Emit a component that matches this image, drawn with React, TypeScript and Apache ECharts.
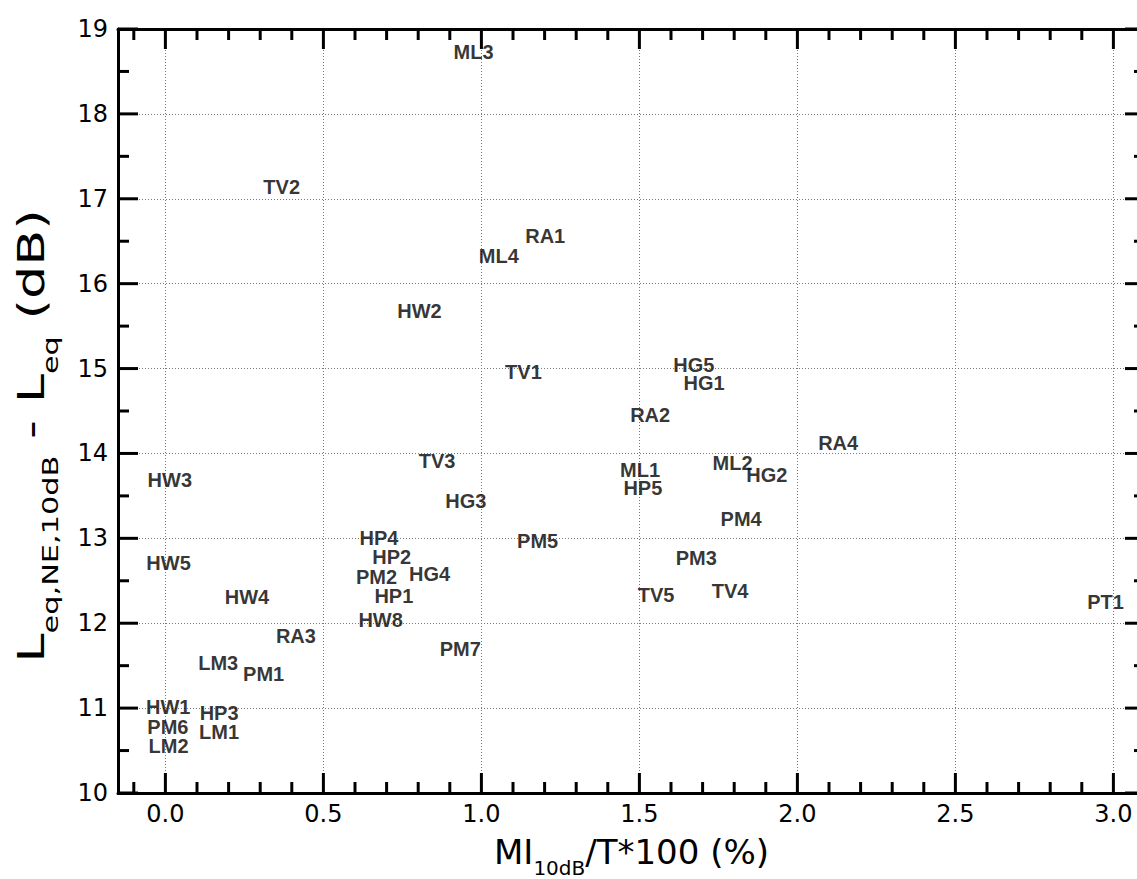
import React, { useEffect, useRef } from 'react';
import * as echarts from 'echarts';

const siteNames = ['ML3','TV2','RA1','ML4','HW2','TV1','HG5','HG1','RA2','RA4','TV3','ML1','ML2','HG2','HW3','HP5','HG3','PM4','HP4','PM5','HW5','HP2','PM3','PM2','HG4','HW4','HP1','TV5','TV4','PT1','HW8','RA3','PM7','LM3','PM1','HW1','HP3','PM6','LM1','LM2'];
const miValues = [0.975,0.368,1.202,1.055,0.804,1.133,1.672,1.705,1.534,2.129,0.860,1.502,1.795,1.903,0.014,1.511,0.951,1.822,0.676,1.178,0.010,0.716,1.680,0.668,0.836,0.258,0.723,1.553,1.787,2.975,0.681,0.413,0.933,0.167,0.311,0.009,0.170,0.008,0.170,0.010];
const diffValues = [18.73,17.14,16.56,16.33,15.68,14.96,15.04,14.83,14.45,14.12,13.91,13.81,13.89,13.75,13.69,13.59,13.44,13.23,13.00,12.97,12.71,12.78,12.77,12.55,12.58,12.31,12.32,12.33,12.38,12.25,12.04,11.85,11.70,11.53,11.40,11.01,10.94,10.78,10.72,10.55];

const xMajorTicks = [0, 0.5, 1.0, 1.5, 2.0, 2.5, 3.0];
const xMinorTicks = [-0.1, 0.1, 0.2, 0.3, 0.4, 0.6, 0.7, 0.8, 0.9, 1.1, 1.2, 1.3, 1.4, 1.6, 1.7, 1.8, 1.9, 2.1, 2.2, 2.3, 2.4, 2.6, 2.7, 2.8, 2.9];
const yMajorTicks = [10, 11, 12, 13, 14, 15, 16, 17, 18, 19];
const yMinorTicks = [10.5, 11.5, 12.5, 13.5, 14.5, 15.5, 16.5, 17.5, 18.5];
const xRange = [-0.15, 3.1];
const yRange = [10, 19];
const yStep = 1;

const xTitle = '{m|MI}{s|10dB}{m|/T*100 (%)}';
const yTitle = '{m|L}{s|eq,NE,10dB}{m| - L}{s|eq}{m| (dB)}';

const FONT = 'DejaVu Sans, Verdana, sans-serif';
const BOLD_FONT = 'Liberation Sans, Arial, Helvetica, sans-serif';

// tick kinds: 0 = x major, 1 = x minor, 2 = y major, 3 = y minor
const tickSpecs = [
  ...xMajorTicks.map((v) => [v, yRange[0], 0]),
  ...xMinorTicks.map((v) => [v, yRange[0], 1]),
  ...yMajorTicks.map((v) => [xRange[0], v, 2]),
  ...yMinorTicks.map((v) => [xRange[0], v, 3]),
];

export default function App() {
  const ref = useRef<HTMLDivElement>(null);
  useEffect(() => {
    if (!ref.current) return;
    const chart = echarts.init(ref.current, undefined, { renderer: 'svg' });
    const lineStyle = { color: '#000', width: 3 };
    const gridLine = { show: true, lineStyle: { type: [1, 2], color: '#777', width: 1 } };
    const option: any = {
      animation: false,
      backgroundColor: '#fff',
      grid: { left: 118, top: 29, right: -8, bottom: 86, containLabel: false, outerBoundsMode: 'none' },
      graphic: [
        {
          type: 'text',
          x: 32,
          y: 436,
          rotation: Math.PI / 2,
          scaleX: 1.38,
          style: {
            text: yTitle,
            align: 'center',
            verticalAlign: 'middle',
            rich: {
              m: { fontSize: 38, fontFamily: FONT, fill: '#000', color: '#000', lineHeight: 40, verticalAlign: 'top' },
              s: { fontSize: 22, fontFamily: FONT, fill: '#000', color: '#000', lineHeight: 40, verticalAlign: 'top', padding: [27, 0, 0, 0] },
            },
          },
        },
      ],
      xAxis: [
        {
          type: 'value', min: xRange[0], max: xRange[1],
          position: 'bottom',
          axisLine: { show: true, onZero: false, lineStyle },
          axisTick: { show: false, customValues: xMajorTicks },
          axisLabel: {
            customValues: xMajorTicks,
            formatter: (v: number) => v.toFixed(1),
            fontSize: 24, color: '#000', fontFamily: FONT, margin: 9,
          },
          splitLine: gridLine,
          name: xTitle,
          nameLocation: 'middle',
          nameGap: 42,
          nameTextStyle: {
            rich: {
              m: { fontSize: 34, fontFamily: FONT, color: '#000', lineHeight: 40, verticalAlign: 'top' },
              s: { fontSize: 20, fontFamily: FONT, color: '#000', lineHeight: 40, verticalAlign: 'top', padding: [23, 0, 0, 0] },
            },
          },
        },
        {
          type: 'value', min: xRange[0], max: xRange[1],
          position: 'top',
          axisLine: { show: true, onZero: false, lineStyle },
          axisTick: { show: false },
          axisLabel: { show: false },
          splitLine: { show: false },
        },
      ],
      yAxis: [
        {
          type: 'value', min: yRange[0], max: yRange[1], interval: yStep,
          position: 'left',
          axisLine: { show: true, onZero: false, lineStyle },
          axisTick: { show: false },
          minorTick: { show: false },
          axisLabel: { fontSize: 24, color: '#000', fontFamily: FONT, margin: 10 },
          splitLine: gridLine,
        },
        {
          type: 'value', min: yRange[0], max: yRange[1], interval: yStep,
          position: 'right',
          axisLine: { show: true, onZero: false, lineStyle },
          axisTick: { show: false },
          axisLabel: { show: false },
          splitLine: { show: false },
        },
      ],
      series: [
        {
          type: 'custom',
          name: 'ticks',
          coordinateSystem: 'cartesian2d',
          xAxisIndex: 0,
          yAxisIndex: 0,
          silent: true,
          clip: false,
          z: 5,
          encode: { x: 0, y: 1 },
          data: tickSpecs,
          renderItem: (params: any, api: any) => {
            const cs = params.coordSys;
            const kind = api.value(2);
            const pt = api.coord([api.value(0), api.value(1)]);
            const len = kind % 2 === 0 ? 20 : 11;
            const style = { stroke: '#000', lineWidth: 3 };
            if (kind < 2) {
              const x = pt[0];
              const b = cs.y + cs.height;
              const t = cs.y;
              return {
                type: 'group',
                children: [
                  { type: 'line', shape: { x1: x, y1: b, x2: x, y2: b - len }, style },
                  { type: 'line', shape: { x1: x, y1: t, x2: x, y2: t + len }, style },
                ],
              };
            }
            const y = pt[1];
            const l = cs.x;
            const r = cs.x + cs.width;
            return {
              type: 'group',
              children: [
                { type: 'line', shape: { x1: l, y1: y, x2: l + len, y2: y }, style },
                { type: 'line', shape: { x1: r, y1: y, x2: r - len, y2: y }, style },
              ],
            };
          },
        },
        {
          type: 'scatter',
          xAxisIndex: 0,
          yAxisIndex: 0,
          symbolSize: 1,
          itemStyle: { color: 'rgba(0,0,0,0)' },
          data: siteNames.map((n, i) => [miValues[i], diffValues[i], n]),
          label: {
            show: true,
            position: 'inside',
            formatter: (p: any) => p.data[2],
            color: '#000',
            fontWeight: 'bold',
            fontSize: 20,
            fontFamily: BOLD_FONT,
          },
        },
      ],
    };
    chart.setOption(option);
    return () => chart.dispose();
  }, []);
  return <div ref={ref} style={{ position: 'fixed', left: 0, top: 0, width: 1137, height: 879 }} />;
}
